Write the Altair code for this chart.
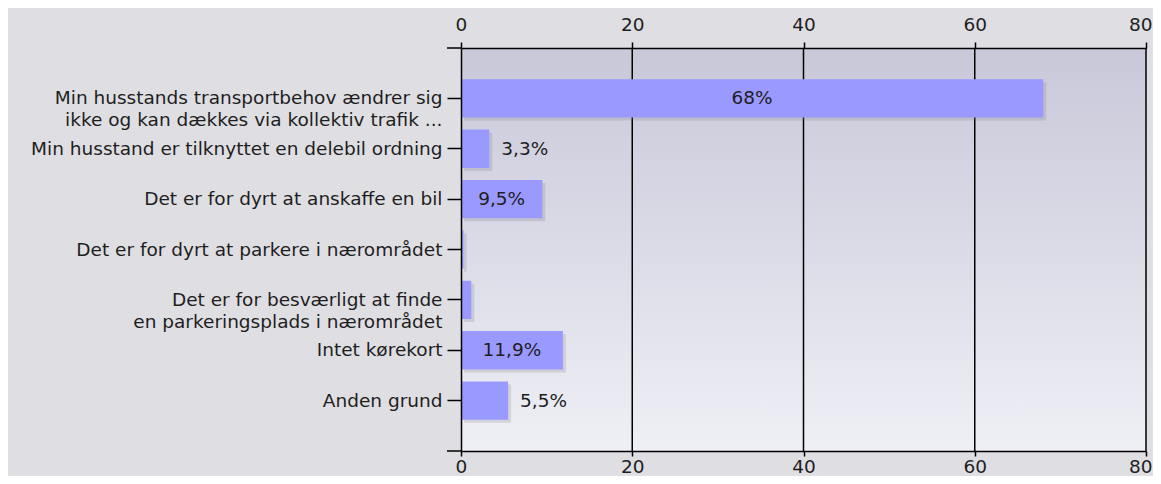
import altair as alt
import pandas as pd

categories = [
    "Min husstands transportbehov ændrer sig\nikke og kan dækkes via kollektiv trafik ...",
    "Min husstand er tilknyttet en delebil ordning",
    "Det er for dyrt at anskaffe en bil",
    "Det er for dyrt at parkere i nærområdet",
    "Det er for besværligt at finde\nen parkeringsplads i nærområdet",
    "Intet kørekort",
    "Anden grund",
]
values = [68.0, 3.3, 9.5, 0.3, 1.2, 11.9, 5.5]
labels = ["68%", "3,3%", "9,5%", "", "", "11,9%", "5,5%"]
x_ticks = [0, 20, 40, 60, 80]
grid_values = [20, 40, 60, 80]

df = pd.DataFrame({"cat": categories, "value": values, "label": labels})
grid_df = pd.DataFrame({"g": grid_values})
bg_df = pd.DataFrame({"a": [0]})

FONT = "DejaVu Sans"
FS = 18.5
TXT = "#1e1e1e"
W, H = 685, 403

y_enc = alt.Y(
    "cat:N",
    sort=categories,
    scale=alt.Scale(paddingInner=0.24, paddingOuter=0.62),
    axis=alt.Axis(
        title=None,
        labelExpr="split(datum.label, '\\n')",
        labelFontSize=FS,
        labelFont=FONT,
        labelColor=TXT,
        labelLineHeight=22,
        labelPadding=5,
        tickSize=14,
        tickColor="black",
        tickWidth=1.5,
        domainColor="black",
        domainWidth=1.5,
        labelLimit=600,
        zindex=1,
    ),
)

xscale = alt.Scale(domain=[0, 80], nice=False, zero=True)


def xaxis(orient, pad, tick):
    return alt.Axis(
        orient=orient,
        values=x_ticks,
        title=None,
        grid=False,
        tickSize=tick,
        tickColor="black",
        tickWidth=1.5,
        domainColor="black",
        domainWidth=1.5,
        labelFontSize=FS,
        labelFont=FONT,
        labelColor=TXT,
        labelPadding=pad,
        labelFlush=False,
        labelAlign=alt.condition("datum.value == 80", alt.value("right"), alt.value("center")),
        labelOffset=alt.condition("datum.value == 80", alt.value(6), alt.value(0)),
        zindex=1,
    )


gradient = alt.LinearGradient(
    gradient="linear",
    stops=[
        alt.GradientStop(color="#c8c8d9", offset=0),
        alt.GradientStop(color="#efeff6", offset=1),
    ],
    x1=0, x2=0, y1=0, y2=1,
)

background = alt.Chart(bg_df).mark_rect(color=gradient).encode(
    x=alt.value(0), x2=alt.value(W), y=alt.value(0), y2=alt.value(H)
)

grid = alt.Chart(grid_df).mark_rule(color="black", strokeWidth=1.5).encode(
    x=alt.X("g:Q", scale=xscale, axis=xaxis("top", 8, 6))
)

base = alt.Chart(df)

shadow = base.mark_bar(color="#7a7a86", opacity=0.22, xOffset=3, yOffset=3).encode(
    x=alt.X("value:Q", scale=xscale, axis=None),
    y=y_enc,
)

bars = base.mark_bar(color="#9999ff").encode(
    x=alt.X("value:Q", scale=xscale, axis=xaxis("bottom", 1, 5)),
    y=alt.Y("cat:N", sort=categories),
)

inside = base.transform_filter("datum.value > 8").transform_calculate(
    mid="datum.value / 2"
).mark_text(fontSize=FS, font=FONT, color=TXT, align="center", baseline="middle").encode(
    x=alt.X("mid:Q", scale=xscale, axis=None),
    y=alt.Y("cat:N", sort=categories),
    text="label:N",
)

outside = base.transform_filter("datum.value <= 8").mark_text(
    fontSize=FS, font=FONT, color=TXT, align="left", baseline="middle", dx=12
).encode(
    x=alt.X("value:Q", scale=xscale, axis=None),
    y=alt.Y("cat:N", sort=categories),
    text="label:N",
)

corner = alt.Chart(bg_df).mark_rule(color="black", strokeWidth=1.5).encode(
    x=alt.value(-14), x2=alt.value(0), y=alt.value(0)
)
corner2 = alt.Chart(bg_df).mark_rule(color="black", strokeWidth=1.5).encode(
    x=alt.value(-14), x2=alt.value(0), y=alt.value(H)
)

chart = (
    alt.layer(background, grid, shadow, bars, inside, outside, corner, corner2)
    .resolve_axis(x="independent")
    .properties(
        width=W,
        height=H,
        autosize=alt.AutoSizeParams(type="none"),
        padding={"left": 453, "top": 40, "right": 7, "bottom": 25},
        background="#dfdee3",
    )
    .configure_view(stroke=None)
)

chart.save("out.html", embed_options={"renderer": "svg", "actions": False})
